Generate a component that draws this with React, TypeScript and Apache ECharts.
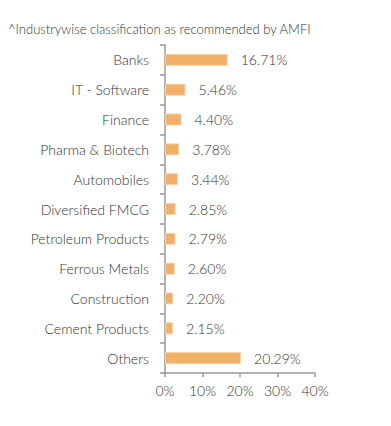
import React, { useEffect, useRef } from "react";
import * as echarts from "echarts";

const categories = [
  "Banks",
  "IT - Software",
  "Finance",
  "Pharma & Biotech",
  "Automobiles",
  "Diversified FMCG",
  "Petroleum Products",
  "Ferrous Metals",
  "Construction",
  "Cement Products",
  "Others",
];
const values = [16.71, 5.46, 4.4, 3.78, 3.44, 2.85, 2.79, 2.6, 2.2, 2.15, 20.29];
const titleText = "^Industrywise classification as recommended by AMFI";
const FONT = "Lato, 'Open Sans', sans-serif";

export default function App() {
  const ref = useRef<HTMLDivElement>(null);
  useEffect(() => {
    document.body.style.margin = "0";
    const chart = echarts.init(ref.current!, null, { renderer: "svg" });
    chart.setOption({
      animation: false,
      backgroundColor: "#ffffff",
      title: {
        text: titleText,
        left: 8,
        top: 22,
        padding: 0,
        textStyle: { fontFamily: FONT, fontSize: 13, fontWeight: 300, color: "#333" },
      },
      grid: { left: 165, right: 76, top: 45, bottom: 53, containLabel: false },
      xAxis: {
        type: "value",
        min: 0,
        max: 40,
        interval: 10,
        splitLine: { show: false },
        axisLine: { show: true, lineStyle: { color: "#999", width: 1.5 } },
        axisTick: { show: true, length: 4, lineStyle: { color: "#999", width: 1.5 } },
        axisLabel: {
          formatter: "{value}%",
          fontFamily: FONT,
          fontSize: 14,
          fontWeight: 300,
          color: "#333",
          margin: 10,
        },
      },
      yAxis: {
        type: "category",
        data: categories,
        inverse: true,
        axisLine: { show: true, lineStyle: { color: "#999", width: 1.5 } },
        axisTick: { show: true, length: 5, lineStyle: { color: "#999", width: 1.5 } },
        axisLabel: {
          fontFamily: FONT,
          fontSize: 14,
          fontWeight: 300,
          color: "#333",
          margin: 16,
        },
      },
      series: [
        {
          type: "bar",
          data: values,
          barWidth: 12,
          itemStyle: { color: "#F0B068", borderColor: "#F7D3A8", borderWidth: 1 },
          label: {
            show: true,
            position: "right",
            distance: 13,
            formatter: (p: any) => p.value.toFixed(2) + "%",
            fontFamily: FONT,
            fontSize: 14,
            fontWeight: 300,
            color: "#333",
          },
        },
      ],
    });
    return () => chart.dispose();
  }, []);
  return <div ref={ref} style={{ width: 391, height: 426 }} />;
}
